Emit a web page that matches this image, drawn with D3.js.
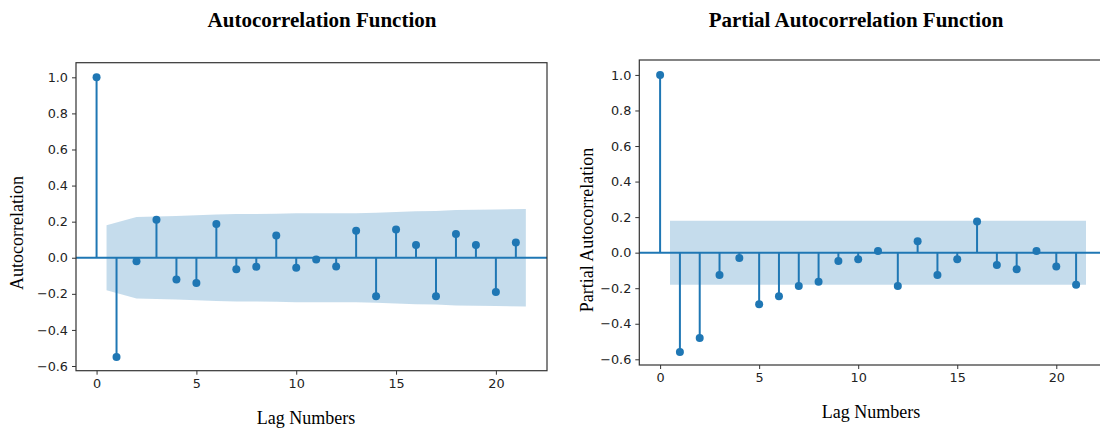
<!DOCTYPE html>
<html>
<head>
<meta charset="utf-8">
<script src="https://cdn.jsdelivr.net/npm/d3@7"></script>
<style>
  body { margin: 0; background: #fff; }
  svg { display: block; }
</style>
</head>
<body>
<svg id="chart" width="1100" height="430"></svg>
<script>
// ---- data ----
const lags = d3.range(0, 22);
const acfValues = [1.0, -0.55, -0.02, 0.21, -0.12, -0.14, 0.187, -0.064, -0.05, 0.123, -0.056,
                   -0.01, -0.049, 0.149, -0.213, 0.156, 0.071, -0.213, 0.132, 0.071, -0.19, 0.084];
const pacfValues = [1.0, -0.559, -0.48, -0.125, -0.03, -0.29, -0.245, -0.187, -0.163, -0.047, -0.037,
                    0.01, -0.187, 0.064, -0.125, -0.037, 0.175, -0.069, -0.093, 0.01, -0.078, -0.18];
// confidence half-widths for lags 1..21
const acfConf = [0.18, 0.226, 0.228, 0.232, 0.236, 0.24, 0.243, 0.243, 0.244, 0.246, 0.246,
                 0.247, 0.247, 0.25, 0.254, 0.258, 0.259, 0.264, 0.266, 0.267, 0.27];
const pacfConf = [0.18, 0.18, 0.18, 0.18, 0.18, 0.18, 0.18, 0.18, 0.18, 0.18, 0.18,
                  0.18, 0.18, 0.18, 0.18, 0.18, 0.18, 0.18, 0.18, 0.18, 0.18];
const yTicks = [-0.6, -0.4, -0.2, 0.0, 0.2, 0.4, 0.6, 0.8, 1.0];
const xTicks = [0, 5, 10, 15, 20];
const titles = ["Autocorrelation Function", "Partial Autocorrelation Function"];
const yLabels = ["Autocorrelation", "Partial Autocorrelation"];
const xLabel = "Lag Numbers";

const svg = d3.select("#chart");
const blue = "#1f77b4";
const fmt = v => (v < 0 ? "\u2212" : "") + Math.abs(v).toFixed(1);

const panels = [
  { values: acfValues, conf: acfConf, title: titles[0], ylab: yLabels[0],
    left: 76, right: 547, top: 62.7, bottom: 370.7,
    xdom: [-1.03, 22.56], ydom: [-0.626, 1.081],
    titleX: 322, titleY: 27, ylabX: 23, ylabY: 233, xlabX: 306, xlabY: 424 },
  { values: pacfValues, conf: pacfConf, title: titles[1], ylab: yLabels[1],
    left: 639.3, right: 1107, top: 60, bottom: 365,
    xdom: [-1.05, 22.56], ydom: [-0.632, 1.084],
    titleX: 856, titleY: 27, ylabX: 593, ylabY: 230, xlabX: 871, xlabY: 418 }
];

panels.forEach(p => {
  const x = d3.scaleLinear().domain(p.xdom).range([p.left, p.right]);
  const y = d3.scaleLinear().domain(p.ydom).range([p.bottom, p.top]);
  const g = svg.append("g");

  // confidence band
  const bandLags = lags.slice(1).map((l, i, arr) =>
    i === 0 ? l - 0.5 : (i === arr.length - 1 ? l + 0.5 : l));
  const bandData = bandLags.map((l, i) => ({ l, c: p.conf[i] }));
  g.append("path")
    .datum(bandData)
    .attr("fill", blue)
    .attr("fill-opacity", 0.26)
    .attr("d", d3.area().x(d => x(d.l)).y0(d => y(-d.c)).y1(d => y(d.c)));

  // zero line
  g.append("line")
    .attr("x1", p.left).attr("x2", p.right)
    .attr("y1", y(0)).attr("y2", y(0))
    .attr("stroke", blue).attr("stroke-width", 2);

  // stems
  g.selectAll("line.stem").data(p.values).join("line")
    .attr("class", "stem")
    .attr("x1", (d, i) => x(lags[i])).attr("x2", (d, i) => x(lags[i]))
    .attr("y1", y(0)).attr("y2", d => y(d))
    .attr("stroke", blue).attr("stroke-width", 2);

  // markers
  g.selectAll("circle").data(p.values).join("circle")
    .attr("cx", (d, i) => x(lags[i])).attr("cy", d => y(d))
    .attr("r", 4).attr("fill", blue);

  // frame
  g.append("rect")
    .attr("x", p.left).attr("y", p.top)
    .attr("width", p.right - p.left).attr("height", p.bottom - p.top)
    .attr("fill", "none").attr("stroke", "#333").attr("stroke-width", 1.2);

  // axes
  const yAxis = d3.axisLeft(y).tickValues(yTicks).tickFormat(fmt).tickSizeOuter(0).tickSize(4).tickPadding(4);
  const xAxis = d3.axisBottom(x).tickValues(xTicks).tickFormat(d3.format("d")).tickSizeOuter(0).tickSize(4).tickPadding(4);
  const ya = g.append("g").attr("transform", `translate(${p.left},0)`).call(yAxis);
  const xa = g.append("g").attr("transform", `translate(0,${p.bottom})`).call(xAxis);
  [ya, xa].forEach(a => {
    a.select(".domain").remove();
    a.selectAll("line").attr("stroke", "#333").attr("stroke-width", 1);
    a.selectAll("text").attr("fill", "#222")
      .style("font-family", "'DejaVu Sans', sans-serif").style("font-size", "12.8px");
  });

  // title
  svg.append("text")
    .attr("x", p.titleX).attr("y", p.titleY)
    .attr("text-anchor", "middle")
    .style("font-family", "'Liberation Serif', 'Times New Roman', serif")
    .style("font-weight", "bold").style("font-size", "21px")
    .text(p.title);

  // y label
  svg.append("text")
    .attr("transform", `translate(${p.ylabX},${p.ylabY}) rotate(-90)`)
    .attr("text-anchor", "middle")
    .style("font-family", "'Liberation Serif', 'Times New Roman', serif")
    .style("font-size", "18px")
    .text(p.ylab);

  // x label
  svg.append("text")
    .attr("x", p.xlabX).attr("y", p.xlabY)
    .attr("text-anchor", "middle")
    .style("font-family", "'Liberation Serif', 'Times New Roman', serif")
    .style("font-size", "18px")
    .text(xLabel);
});
</script>
</body>
</html>
